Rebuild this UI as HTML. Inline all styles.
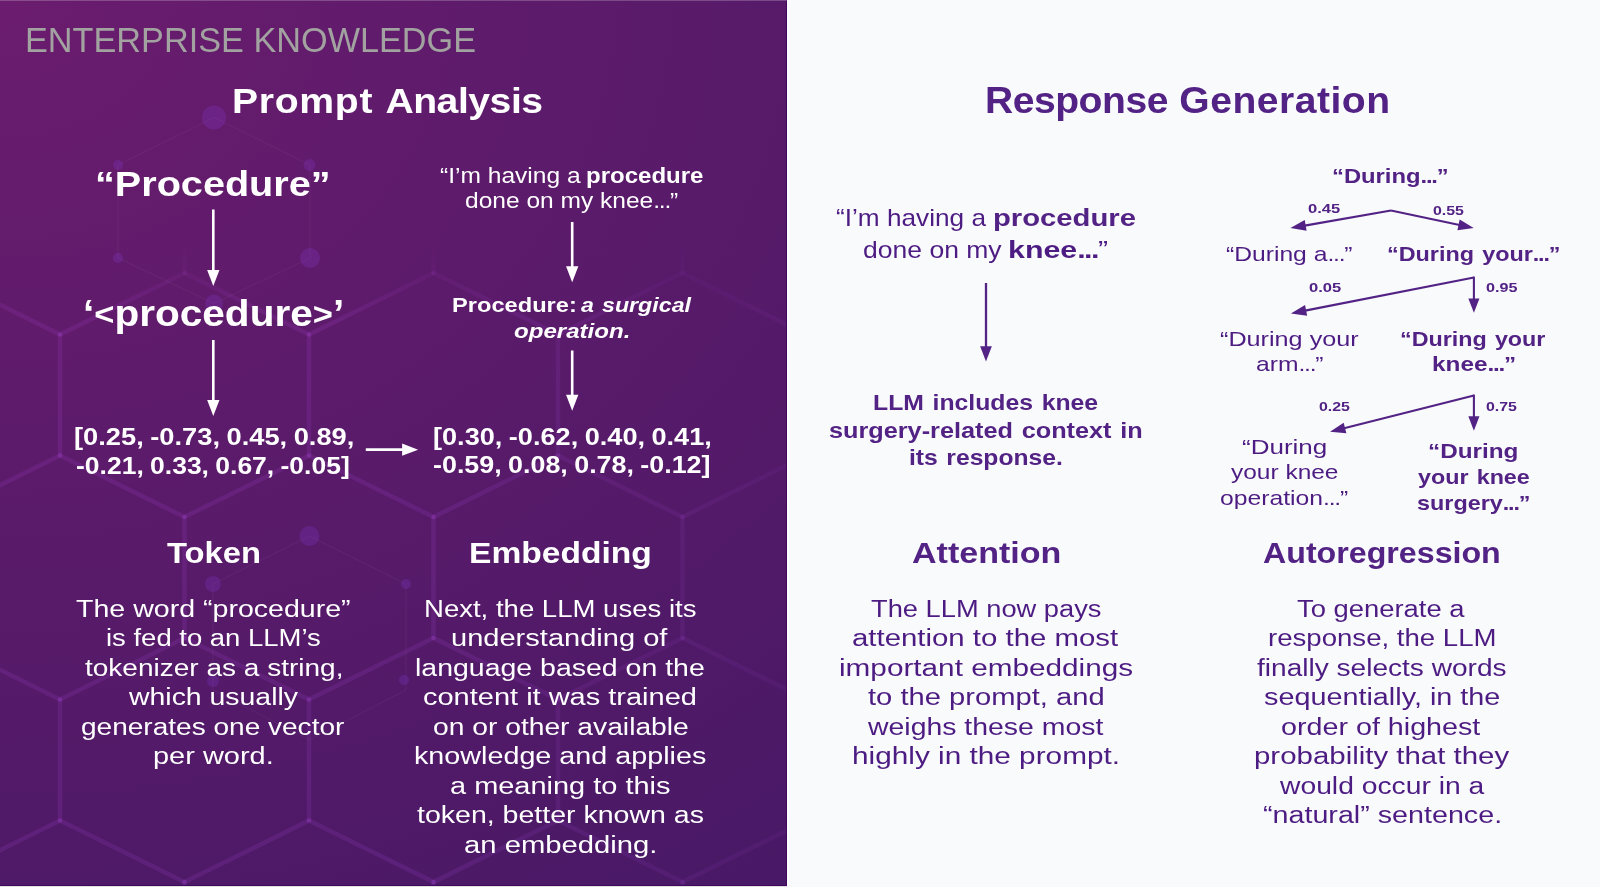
<!DOCTYPE html>
<html lang="en"><head><meta charset="utf-8"><title>Prompt Analysis and Response Generation</title>
<style>
html,body{margin:0;padding:0}
body{width:1600px;height:887px;position:relative;overflow:hidden;background:#f9fafc;font-family:"Liberation Sans",sans-serif}
#left{position:absolute;left:0;top:0;width:787px;height:886px;box-sizing:border-box;border-right:1px solid #41075f;border-bottom:1px solid #41075f;background:radial-gradient(1400px 1120px at 0 0,#6b1c6e 0%,#471966 100%);overflow:hidden}
#topline{position:absolute;left:0;top:0;width:787px;height:1px;background:rgba(255,255,255,0.21)}
#botline{position:absolute;left:0;top:886px;width:787px;height:1px;background:#dfe2e0}
#edge{position:absolute;left:787px;top:0;width:2px;height:886px;background:#fff}
#right{position:absolute;left:0;top:0;width:1600px;height:887px}
h1,h2,p,article,header,.fig{margin:0;padding:0;font:inherit;display:block}
svg.ov{position:absolute;left:0;top:0;width:1600px;height:887px;overflow:visible}
.t{display:block;position:absolute;white-space:nowrap;line-height:normal;transform-origin:0 0;margin:0}
.t b{font-weight:bold}
.e{letter-spacing:-0.05em}
.a{font-size:0.85em;position:relative;top:-1.5px}
</style></head><body>
<div id="left">
<svg class="ov" viewBox="0 0 1600 887">
<defs><linearGradient id="hf" gradientUnits="userSpaceOnUse" x1="0" y1="0" x2="0" y2="887"><stop offset="0" stop-color="#000"/><stop offset="0.27" stop-color="#000"/><stop offset="0.36" stop-color="#fff"/><stop offset="1" stop-color="#fff"/></linearGradient><linearGradient id="hg" gradientUnits="userSpaceOnUse" x1="0" y1="0" x2="787" y2="0"><stop offset="0" stop-color="#fff"/><stop offset="0.55" stop-color="#fff"/><stop offset="1" stop-color="#777"/></linearGradient><mask id="hm" maskUnits="userSpaceOnUse" x="0" y="0" width="787" height="887"><rect x="0" y="0" width="787" height="887" fill="url(#hf)"/></mask><mask id="hm2" maskUnits="userSpaceOnUse" x="0" y="0" width="787" height="887"><rect x="0" y="0" width="787" height="887" fill="url(#hg)"/></mask></defs>
<g mask="url(#hm2)"><g mask="url(#hm)"><g stroke="#c85aff" stroke-opacity="0.12" stroke-width="4.5" fill="none" stroke-linecap="round">
<line x1="-189.0" y1="-30.5" x2="-189.0" y2="90.5"/>
<line x1="60.0" y1="-30.5" x2="60.0" y2="90.5"/>
<line x1="309.0" y1="-30.5" x2="309.0" y2="90.5"/>
<line x1="558.0" y1="-30.5" x2="558.0" y2="90.5"/>
<line x1="807.0" y1="-30.5" x2="807.0" y2="90.5"/>
<line x1="-64.5" y1="-92.0" x2="-189.0" y2="-30.5"/>
<line x1="-64.5" y1="-92.0" x2="60.0" y2="-30.5"/>
<line x1="184.5" y1="-92.0" x2="60.0" y2="-30.5"/>
<line x1="184.5" y1="-92.0" x2="309.0" y2="-30.5"/>
<line x1="433.5" y1="-92.0" x2="309.0" y2="-30.5"/>
<line x1="433.5" y1="-92.0" x2="558.0" y2="-30.5"/>
<line x1="682.5" y1="-92.0" x2="558.0" y2="-30.5"/>
<line x1="682.5" y1="-92.0" x2="807.0" y2="-30.5"/>
<line x1="931.5" y1="-92.0" x2="807.0" y2="-30.5"/>
<line x1="931.5" y1="-92.0" x2="1056.0" y2="-30.5"/>
<line x1="-64.5" y1="152.0" x2="-64.5" y2="273.0"/>
<line x1="184.5" y1="152.0" x2="184.5" y2="273.0"/>
<line x1="433.5" y1="152.0" x2="433.5" y2="273.0"/>
<line x1="682.5" y1="152.0" x2="682.5" y2="273.0"/>
<line x1="931.5" y1="152.0" x2="931.5" y2="273.0"/>
<line x1="-189.0" y1="90.5" x2="-313.5" y2="152.0"/>
<line x1="-189.0" y1="90.5" x2="-64.5" y2="152.0"/>
<line x1="60.0" y1="90.5" x2="-64.5" y2="152.0"/>
<line x1="60.0" y1="90.5" x2="184.5" y2="152.0"/>
<line x1="309.0" y1="90.5" x2="184.5" y2="152.0"/>
<line x1="309.0" y1="90.5" x2="433.5" y2="152.0"/>
<line x1="558.0" y1="90.5" x2="433.5" y2="152.0"/>
<line x1="558.0" y1="90.5" x2="682.5" y2="152.0"/>
<line x1="807.0" y1="90.5" x2="682.5" y2="152.0"/>
<line x1="807.0" y1="90.5" x2="931.5" y2="152.0"/>
<line x1="-189.0" y1="334.5" x2="-189.0" y2="455.5"/>
<line x1="60.0" y1="334.5" x2="60.0" y2="455.5"/>
<line x1="309.0" y1="334.5" x2="309.0" y2="455.5"/>
<line x1="558.0" y1="334.5" x2="558.0" y2="455.5"/>
<line x1="807.0" y1="334.5" x2="807.0" y2="455.5"/>
<line x1="-64.5" y1="273.0" x2="-189.0" y2="334.5"/>
<line x1="-64.5" y1="273.0" x2="60.0" y2="334.5"/>
<line x1="184.5" y1="273.0" x2="60.0" y2="334.5"/>
<line x1="184.5" y1="273.0" x2="309.0" y2="334.5"/>
<line x1="433.5" y1="273.0" x2="309.0" y2="334.5"/>
<line x1="433.5" y1="273.0" x2="558.0" y2="334.5"/>
<line x1="682.5" y1="273.0" x2="558.0" y2="334.5"/>
<line x1="682.5" y1="273.0" x2="807.0" y2="334.5"/>
<line x1="931.5" y1="273.0" x2="807.0" y2="334.5"/>
<line x1="931.5" y1="273.0" x2="1056.0" y2="334.5"/>
<line x1="-64.5" y1="517.0" x2="-64.5" y2="638.0"/>
<line x1="184.5" y1="517.0" x2="184.5" y2="638.0"/>
<line x1="433.5" y1="517.0" x2="433.5" y2="638.0"/>
<line x1="682.5" y1="517.0" x2="682.5" y2="638.0"/>
<line x1="931.5" y1="517.0" x2="931.5" y2="638.0"/>
<line x1="-189.0" y1="455.5" x2="-313.5" y2="517.0"/>
<line x1="-189.0" y1="455.5" x2="-64.5" y2="517.0"/>
<line x1="60.0" y1="455.5" x2="-64.5" y2="517.0"/>
<line x1="60.0" y1="455.5" x2="184.5" y2="517.0"/>
<line x1="309.0" y1="455.5" x2="184.5" y2="517.0"/>
<line x1="309.0" y1="455.5" x2="433.5" y2="517.0"/>
<line x1="558.0" y1="455.5" x2="433.5" y2="517.0"/>
<line x1="558.0" y1="455.5" x2="682.5" y2="517.0"/>
<line x1="807.0" y1="455.5" x2="682.5" y2="517.0"/>
<line x1="807.0" y1="455.5" x2="931.5" y2="517.0"/>
<line x1="-189.0" y1="699.5" x2="-189.0" y2="820.5"/>
<line x1="60.0" y1="699.5" x2="60.0" y2="820.5"/>
<line x1="309.0" y1="699.5" x2="309.0" y2="820.5"/>
<line x1="558.0" y1="699.5" x2="558.0" y2="820.5"/>
<line x1="807.0" y1="699.5" x2="807.0" y2="820.5"/>
<line x1="-64.5" y1="638.0" x2="-189.0" y2="699.5"/>
<line x1="-64.5" y1="638.0" x2="60.0" y2="699.5"/>
<line x1="184.5" y1="638.0" x2="60.0" y2="699.5"/>
<line x1="184.5" y1="638.0" x2="309.0" y2="699.5"/>
<line x1="433.5" y1="638.0" x2="309.0" y2="699.5"/>
<line x1="433.5" y1="638.0" x2="558.0" y2="699.5"/>
<line x1="682.5" y1="638.0" x2="558.0" y2="699.5"/>
<line x1="682.5" y1="638.0" x2="807.0" y2="699.5"/>
<line x1="931.5" y1="638.0" x2="807.0" y2="699.5"/>
<line x1="931.5" y1="638.0" x2="1056.0" y2="699.5"/>
<line x1="-64.5" y1="882.0" x2="-64.5" y2="1003.0"/>
<line x1="184.5" y1="882.0" x2="184.5" y2="1003.0"/>
<line x1="433.5" y1="882.0" x2="433.5" y2="1003.0"/>
<line x1="682.5" y1="882.0" x2="682.5" y2="1003.0"/>
<line x1="931.5" y1="882.0" x2="931.5" y2="1003.0"/>
<line x1="-189.0" y1="820.5" x2="-313.5" y2="882.0"/>
<line x1="-189.0" y1="820.5" x2="-64.5" y2="882.0"/>
<line x1="60.0" y1="820.5" x2="-64.5" y2="882.0"/>
<line x1="60.0" y1="820.5" x2="184.5" y2="882.0"/>
<line x1="309.0" y1="820.5" x2="184.5" y2="882.0"/>
<line x1="309.0" y1="820.5" x2="433.5" y2="882.0"/>
<line x1="558.0" y1="820.5" x2="433.5" y2="882.0"/>
<line x1="558.0" y1="820.5" x2="682.5" y2="882.0"/>
<line x1="807.0" y1="820.5" x2="682.5" y2="882.0"/>
<line x1="807.0" y1="820.5" x2="931.5" y2="882.0"/>
<line x1="-189.0" y1="1064.5" x2="-189.0" y2="1185.5"/>
<line x1="60.0" y1="1064.5" x2="60.0" y2="1185.5"/>
<line x1="309.0" y1="1064.5" x2="309.0" y2="1185.5"/>
<line x1="558.0" y1="1064.5" x2="558.0" y2="1185.5"/>
<line x1="807.0" y1="1064.5" x2="807.0" y2="1185.5"/>
<line x1="-64.5" y1="1003.0" x2="-189.0" y2="1064.5"/>
<line x1="-64.5" y1="1003.0" x2="60.0" y2="1064.5"/>
<line x1="184.5" y1="1003.0" x2="60.0" y2="1064.5"/>
<line x1="184.5" y1="1003.0" x2="309.0" y2="1064.5"/>
<line x1="433.5" y1="1003.0" x2="309.0" y2="1064.5"/>
<line x1="433.5" y1="1003.0" x2="558.0" y2="1064.5"/>
<line x1="682.5" y1="1003.0" x2="558.0" y2="1064.5"/>
<line x1="682.5" y1="1003.0" x2="807.0" y2="1064.5"/>
<line x1="931.5" y1="1003.0" x2="807.0" y2="1064.5"/>
<line x1="931.5" y1="1003.0" x2="1056.0" y2="1064.5"/>
</g></g></g>
<g stroke="#ffffff" stroke-opacity="0.03" stroke-width="1.5" fill="none">
<polygon points="214.0,117.5 310.0,165.0 310.0,258.0 214.0,303.5 118.0,258.0 118.0,165.0"/>
<polygon points="309.5,536.0 406.0,584.0 406.0,690.0 309.5,740.0 213.0,690.0 213.0,584.0"/>
</g>
<g fill="#8a3fe0" fill-opacity="0.22">
<circle cx="214.0" cy="117.5" r="12"/>
<circle cx="310.0" cy="258.0" r="10"/>
<circle cx="214.0" cy="303.5" r="9"/>
<circle cx="118.0" cy="165.0" r="5"/>
<circle cx="309.5" cy="165.0" r="6"/>
<circle cx="118.0" cy="258.0" r="5"/>
<circle cx="309.5" cy="536.0" r="10"/>
<circle cx="213.0" cy="584.0" r="8"/>
<circle cx="406.0" cy="584.0" r="5"/>
<circle cx="213.0" cy="681.0" r="6"/>
<circle cx="404.0" cy="680.0" r="5"/>
</g>
</svg>
<header><span class="t" style="left:24.75px;top:21.00px;font:34.32px 'Liberation Sans',sans-serif;color:#a2a2a0;transform:scaleX(0.9983)">ENTERPRISE KNOWLEDGE</span></header>
<h1><span class="t" style="left:231.76px;top:81.00px;font:bold 35.67px 'Liberation Sans',sans-serif;word-spacing:0.033em;color:#ffffff;transform:scaleX(1.0975)"><span style="letter-spacing:.018em">Prompt</span> <span style="letter-spacing:-.012em">Analysis</span></span></h1>
<article>
<div class="fig"><span class="t" style="left:95.22px;top:164.00px;font:bold 35.67px 'Liberation Sans',sans-serif;word-spacing:0.07em;color:#ffffff;transform:scaleX(1.1111)">“Procedure”</span>
<span class="t" style="left:82.71px;top:293.00px;font:bold 36.40px 'Liberation Sans',sans-serif;word-spacing:0.07em;color:#ffffff;transform:scaleX(1.1144)">‘<span class=a>&lt;</span>procedure<span class=a>&gt;</span>’</span>
<span class="t" style="left:74.07px;top:423.00px;font:bold 23.92px 'Liberation Sans',sans-serif;word-spacing:-0.04em;color:#ffffff;transform:scaleX(1.1411)">[0.25, -0.73, 0.45, 0.89,</span>
<span class="t" style="left:76.39px;top:452.00px;font:bold 23.92px 'Liberation Sans',sans-serif;word-spacing:-0.04em;color:#ffffff;transform:scaleX(1.1083)">-0.21, 0.33, 0.67, -0.05]</span></div>
<h2><span class="t" style="left:166.73px;top:536.00px;font:bold 30.37px 'Liberation Sans',sans-serif;word-spacing:0.07em;color:#ffffff;transform:scaleX(1.0794)">Token</span></h2>
<p><span class="t" style="left:76.40px;top:595.00px;font:23.92px 'Liberation Sans',sans-serif;color:#ffffff;transform:scaleX(1.1947)">The word “procedure”</span>
<span class="t" style="left:105.78px;top:624.00px;font:23.92px 'Liberation Sans',sans-serif;color:#ffffff;transform:scaleX(1.1491)">is fed to an LLM’s</span>
<span class="t" style="left:85.21px;top:654.00px;font:23.92px 'Liberation Sans',sans-serif;color:#ffffff;transform:scaleX(1.1718)">tokenizer as a string,</span>
<span class="t" style="left:128.75px;top:683.00px;font:23.92px 'Liberation Sans',sans-serif;color:#ffffff;transform:scaleX(1.1884)">which usually</span>
<span class="t" style="left:80.83px;top:713.00px;font:23.92px 'Liberation Sans',sans-serif;color:#ffffff;transform:scaleX(1.1725)">generates one vector</span>
<span class="t" style="left:153.18px;top:742.00px;font:23.92px 'Liberation Sans',sans-serif;color:#ffffff;transform:scaleX(1.2109)">per word.</span></p>
</article>
<article>
<div class="fig"><span class="t" style="left:439.91px;top:163.00px;font:21.84px 'Liberation Sans',sans-serif;color:#ffffff;transform:scaleX(1.1247)">“I’m having a</span>
<span class="t" style="left:585.85px;top:163.00px;font:bold 21.84px 'Liberation Sans',sans-serif;word-spacing:0.07em;color:#ffffff;transform:scaleX(1.1005)">procedure</span>
<span class="t" style="left:464.63px;top:188.00px;font:21.84px 'Liberation Sans',sans-serif;color:#ffffff;transform:scaleX(1.1238)">done on my knee<span class=e>...</span>”</span>
<span class="t" style="left:451.79px;top:294.00px;font:bold 20.28px 'Liberation Sans',sans-serif;word-spacing:0.07em;color:#ffffff;transform:scaleX(1.1663)">Procedure:</span>
<span class="t" style="left:580.50px;top:294.00px;font:bold 20.28px 'Liberation Sans',sans-serif;word-spacing:0.07em;color:#ffffff;transform:scaleX(1.1455)"><i>a surgical</i></span>
<span class="t" style="left:513.66px;top:320.00px;font:bold 20.28px 'Liberation Sans',sans-serif;word-spacing:0.07em;color:#ffffff;transform:scaleX(1.1880)"><i>operation.</i></span>
<span class="t" style="left:433.08px;top:423.00px;font:bold 23.92px 'Liberation Sans',sans-serif;word-spacing:-0.04em;color:#ffffff;transform:scaleX(1.1349)">[0.30, -0.62, 0.40, 0.41,</span>
<span class="t" style="left:432.63px;top:451.00px;font:bold 23.92px 'Liberation Sans',sans-serif;word-spacing:-0.04em;color:#ffffff;transform:scaleX(1.1236)">-0.59, 0.08, 0.78, -0.12]</span></div>
<h2><span class="t" style="left:469.04px;top:536.00px;font:bold 30.37px 'Liberation Sans',sans-serif;word-spacing:0.07em;color:#ffffff;transform:scaleX(1.1054)">Embedding</span></h2>
<p><span class="t" style="left:423.95px;top:595.00px;font:23.92px 'Liberation Sans',sans-serif;color:#ffffff;transform:scaleX(1.1519)">Next, the LLM uses its</span>
<span class="t" style="left:451.43px;top:624.00px;font:23.92px 'Liberation Sans',sans-serif;color:#ffffff;transform:scaleX(1.2150)">understanding of</span>
<span class="t" style="left:415.21px;top:654.00px;font:23.92px 'Liberation Sans',sans-serif;color:#ffffff;transform:scaleX(1.1911)">language based on the</span>
<span class="t" style="left:423.29px;top:683.00px;font:23.92px 'Liberation Sans',sans-serif;color:#ffffff;transform:scaleX(1.2125)">content it was trained</span>
<span class="t" style="left:432.57px;top:713.00px;font:23.92px 'Liberation Sans',sans-serif;color:#ffffff;transform:scaleX(1.1807)">on or other available</span>
<span class="t" style="left:414.45px;top:742.00px;font:23.92px 'Liberation Sans',sans-serif;color:#ffffff;transform:scaleX(1.2015)">knowledge and applies</span>
<span class="t" style="left:450.04px;top:772.00px;font:23.92px 'Liberation Sans',sans-serif;color:#ffffff;transform:scaleX(1.2108)">a meaning to this</span>
<span class="t" style="left:417.20px;top:801.00px;font:23.92px 'Liberation Sans',sans-serif;color:#ffffff;transform:scaleX(1.1931)">token, better known as</span>
<span class="t" style="left:464.28px;top:831.00px;font:23.92px 'Liberation Sans',sans-serif;color:#ffffff;transform:scaleX(1.2226)">an embedding.</span></p>
</article>
</div>
<div id="topline"></div><div id="botline"></div><div id="edge"></div>
<svg class="ov" viewBox="0 0 1600 887">
<line x1="213.30" y1="209.50" x2="213.30" y2="271.10" stroke="#ffffff" stroke-width="2.6" stroke-linecap="butt"/><polygon points="213.30,286.10 207.15,270.10 219.45,270.10" fill="#ffffff"/>
<line x1="213.30" y1="340.00" x2="213.30" y2="401.10" stroke="#ffffff" stroke-width="2.6" stroke-linecap="butt"/><polygon points="213.30,416.10 207.15,400.10 219.45,400.10" fill="#ffffff"/>
<line x1="572.20" y1="222.00" x2="572.20" y2="267.20" stroke="#ffffff" stroke-width="2.6" stroke-linecap="butt"/><polygon points="572.20,282.20 566.05,266.20 578.35,266.20" fill="#ffffff"/>
<line x1="572.20" y1="350.50" x2="572.20" y2="395.80" stroke="#ffffff" stroke-width="2.6" stroke-linecap="butt"/><polygon points="572.20,410.80 566.05,394.80 578.35,394.80" fill="#ffffff"/>
<line x1="365.80" y1="449.70" x2="403.10" y2="449.70" stroke="#ffffff" stroke-width="2.8" stroke-linecap="butt"/><polygon points="418.10,449.70 402.10,455.80 402.10,443.60" fill="#ffffff"/>
<line x1="986.00" y1="283.00" x2="986.00" y2="347.20" stroke="#522285" stroke-width="2.3" stroke-linecap="butt"/><polygon points="986.00,361.40 980.15,346.20 991.85,346.20" fill="#522285"/>
<line x1="1391.00" y1="210.50" x2="1304.68" y2="225.60" stroke="#522285" stroke-width="2.1" stroke-linecap="butt"/><polygon points="1290.40,228.10 1304.74,220.11 1306.60,230.75" fill="#522285"/>
<line x1="1391.00" y1="210.50" x2="1459.52" y2="225.08" stroke="#522285" stroke-width="2.1" stroke-linecap="butt"/><polygon points="1473.70,228.10 1457.42,230.16 1459.66,219.59" fill="#522285"/>
<line x1="1473.90" y1="277.50" x2="1305.13" y2="310.61" stroke="#522285" stroke-width="2.1" stroke-linecap="butt"/><polygon points="1290.90,313.40 1305.07,305.12 1307.15,315.72" fill="#522285"/>
<line x1="1473.90" y1="276.60" x2="1473.90" y2="299.50" stroke="#522285" stroke-width="2.1" stroke-linecap="butt"/><polygon points="1473.90,312.70 1468.35,298.50 1479.45,298.50" fill="#522285"/>
<line x1="1473.90" y1="395.50" x2="1344.06" y2="428.21" stroke="#522285" stroke-width="2.1" stroke-linecap="butt"/><polygon points="1330.00,431.75 1343.71,422.73 1346.35,433.20" fill="#522285"/>
<line x1="1473.90" y1="394.60" x2="1473.90" y2="417.25" stroke="#522285" stroke-width="2.1" stroke-linecap="butt"/><polygon points="1473.90,430.75 1468.35,416.25 1479.45,416.25" fill="#522285"/>
</svg>
<section id="right">
<h1><span class="t" style="left:984.82px;top:80.00px;font:bold 36.40px 'Liberation Sans',sans-serif;word-spacing:0.014em;color:#522285;transform:scaleX(1.0731)"><span style="letter-spacing:-.012em">Response</span> <span style="letter-spacing:.013em">Generation</span></span></h1>
<article>
<div class="fig"><span class="t" style="left:836.16px;top:205.00px;font:23.40px 'Liberation Sans',sans-serif;color:#4d1c83;transform:scaleX(1.1201)">“I’m having a</span>
<span class="t" style="left:993.12px;top:205.00px;font:bold 23.40px 'Liberation Sans',sans-serif;word-spacing:0.07em;color:#522285;transform:scaleX(1.2500)">procedure</span>
<span class="t" style="left:863.37px;top:237.00px;font:23.40px 'Liberation Sans',sans-serif;color:#4d1c83;transform:scaleX(1.1340)">done on my</span>
<span class="t" style="left:1008.05px;top:237.00px;font:23.40px 'Liberation Sans',sans-serif;color:#4d1c83;transform:scaleX(1.2977)"><b>knee<span class=e>...</span></b>”</span>
<span class="t" style="left:873.30px;top:390.00px;font:bold 21.84px 'Liberation Sans',sans-serif;word-spacing:0.07em;color:#522285;transform:scaleX(1.1352)">LLM includes knee</span>
<span class="t" style="left:829.13px;top:418.00px;font:bold 21.84px 'Liberation Sans',sans-serif;word-spacing:0.07em;color:#522285;transform:scaleX(1.1571)">surgery-related context in</span>
<span class="t" style="left:909.06px;top:445.00px;font:bold 21.84px 'Liberation Sans',sans-serif;word-spacing:0.07em;color:#522285;transform:scaleX(1.1295)">its response.</span></div>
<h2><span class="t" style="left:911.66px;top:536.00px;font:bold 30.37px 'Liberation Sans',sans-serif;word-spacing:0.07em;color:#522285;transform:scaleX(1.1207)">Attention</span></h2>
<p><span class="t" style="left:870.68px;top:595.00px;font:23.92px 'Liberation Sans',sans-serif;color:#4d1c83;transform:scaleX(1.1409)">The LLM now pays</span>
<span class="t" style="left:852.02px;top:624.00px;font:23.92px 'Liberation Sans',sans-serif;color:#4d1c83;transform:scaleX(1.2285)">attention to the most</span>
<span class="t" style="left:838.64px;top:654.00px;font:23.92px 'Liberation Sans',sans-serif;color:#4d1c83;transform:scaleX(1.2433)">important embeddings</span>
<span class="t" style="left:867.70px;top:683.00px;font:23.92px 'Liberation Sans',sans-serif;color:#4d1c83;transform:scaleX(1.2198)">to the prompt, and</span>
<span class="t" style="left:868.25px;top:713.00px;font:23.92px 'Liberation Sans',sans-serif;color:#4d1c83;transform:scaleX(1.1884)">weighs these most</span>
<span class="t" style="left:852.32px;top:742.00px;font:23.92px 'Liberation Sans',sans-serif;color:#4d1c83;transform:scaleX(1.2450)">highly in the prompt.</span></p>
</article>
<article>
<div class="fig"><span class="t" style="left:1332.49px;top:165.00px;font:bold 20.28px 'Liberation Sans',sans-serif;word-spacing:0.07em;color:#522285;transform:scaleX(1.1736)">“During<span class=e>...</span>”</span>
<span class="t" style="left:1308.14px;top:201.00px;font:bold 13.52px 'Liberation Sans',sans-serif;word-spacing:0.07em;color:#522285;transform:scaleX(1.2255)">0.45</span>
<span class="t" style="left:1433.16px;top:203.00px;font:bold 13.52px 'Liberation Sans',sans-serif;word-spacing:0.07em;color:#522285;transform:scaleX(1.1765)">0.55</span>
<span class="t" style="left:1226.11px;top:242.00px;font:20.80px 'Liberation Sans',sans-serif;color:#4d1c83;transform:scaleX(1.1853)">“During a<span class=e>...</span>”</span>
<span class="t" style="left:1387.06px;top:242.00px;font:bold 20.80px 'Liberation Sans',sans-serif;word-spacing:0.07em;color:#522285;transform:scaleX(1.1240)">“During your<span class=e>...</span>”</span>
<span class="t" style="left:1308.64px;top:280.00px;font:bold 13.52px 'Liberation Sans',sans-serif;word-spacing:0.07em;color:#522285;transform:scaleX(1.2255)">0.05</span>
<span class="t" style="left:1485.65px;top:280.00px;font:bold 13.52px 'Liberation Sans',sans-serif;word-spacing:0.07em;color:#522285;transform:scaleX(1.1961)">0.95</span>
<span class="t" style="left:1219.84px;top:327.00px;font:20.80px 'Liberation Sans',sans-serif;color:#4d1c83;transform:scaleX(1.2119)">“During your</span>
<span class="t" style="left:1255.81px;top:352.00px;font:20.80px 'Liberation Sans',sans-serif;color:#4d1c83;transform:scaleX(1.1855)">arm<span class=e>...</span>”</span>
<span class="t" style="left:1400.32px;top:327.00px;font:bold 20.80px 'Liberation Sans',sans-serif;word-spacing:0.07em;color:#522285;transform:scaleX(1.1211)">“During your</span>
<span class="t" style="left:1431.99px;top:352.00px;font:bold 20.80px 'Liberation Sans',sans-serif;word-spacing:0.07em;color:#522285;transform:scaleX(1.1703)">knee<span class=e>...</span>”</span>
<span class="t" style="left:1318.66px;top:399.00px;font:bold 13.52px 'Liberation Sans',sans-serif;word-spacing:0.07em;color:#522285;transform:scaleX(1.1765)">0.25</span>
<span class="t" style="left:1485.66px;top:399.00px;font:bold 13.52px 'Liberation Sans',sans-serif;word-spacing:0.07em;color:#522285;transform:scaleX(1.1765)">0.75</span>
<span class="t" style="left:1241.56px;top:435.00px;font:20.80px 'Liberation Sans',sans-serif;color:#4d1c83;transform:scaleX(1.2500)">“During</span>
<span class="t" style="left:1230.50px;top:460.00px;font:20.80px 'Liberation Sans',sans-serif;color:#4d1c83;transform:scaleX(1.1768)">your knee</span>
<span class="t" style="left:1220.36px;top:486.00px;font:20.80px 'Liberation Sans',sans-serif;color:#4d1c83;transform:scaleX(1.1882)">operation<span class=e>...</span>”</span>
<span class="t" style="left:1428.25px;top:439.00px;font:bold 20.80px 'Liberation Sans',sans-serif;word-spacing:0.07em;color:#522285;transform:scaleX(1.1678)">“During</span>
<span class="t" style="left:1417.72px;top:465.00px;font:bold 20.80px 'Liberation Sans',sans-serif;word-spacing:0.07em;color:#522285;transform:scaleX(1.1215)">your knee</span>
<span class="t" style="left:1417.16px;top:491.00px;font:bold 20.80px 'Liberation Sans',sans-serif;word-spacing:0.07em;color:#522285;transform:scaleX(1.1244)">surgery<span class=e>...</span>”</span></div>
<h2><span class="t" style="left:1262.96px;top:536.00px;font:bold 30.37px 'Liberation Sans',sans-serif;word-spacing:0.07em;color:#522285;transform:scaleX(1.0598)">Autoregression</span></h2>
<p><span class="t" style="left:1296.93px;top:595.00px;font:23.92px 'Liberation Sans',sans-serif;color:#4d1c83;transform:scaleX(1.1458)">To generate a</span>
<span class="t" style="left:1267.52px;top:624.00px;font:23.92px 'Liberation Sans',sans-serif;color:#4d1c83;transform:scaleX(1.1542)">response, the LLM</span>
<span class="t" style="left:1257.21px;top:654.00px;font:23.92px 'Liberation Sans',sans-serif;color:#4d1c83;transform:scaleX(1.1738)">finally selects words</span>
<span class="t" style="left:1263.60px;top:683.00px;font:23.92px 'Liberation Sans',sans-serif;color:#4d1c83;transform:scaleX(1.2044)">sequentially, in the</span>
<span class="t" style="left:1281.30px;top:713.00px;font:23.92px 'Liberation Sans',sans-serif;color:#4d1c83;transform:scaleX(1.2000)">order of highest</span>
<span class="t" style="left:1253.65px;top:742.00px;font:23.92px 'Liberation Sans',sans-serif;color:#4d1c83;transform:scaleX(1.2309)">probability that they</span>
<span class="t" style="left:1279.50px;top:772.00px;font:23.92px 'Liberation Sans',sans-serif;color:#4d1c83;transform:scaleX(1.1823)">would occur in a</span>
<span class="t" style="left:1262.85px;top:801.00px;font:23.92px 'Liberation Sans',sans-serif;color:#4d1c83;transform:scaleX(1.1997)">“natural” sentence.</span></p>
</article>
</section>
</body></html>
